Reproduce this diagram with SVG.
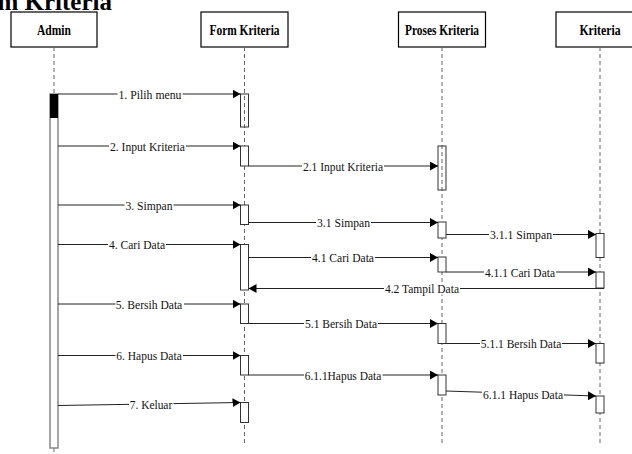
<svg xmlns="http://www.w3.org/2000/svg" width="632" height="454" viewBox="0 0 632 454">
<style>
.hdr{fill:#fff;stroke:#000;stroke-width:1.2}
.htx{font-family:"Liberation Serif",serif;font-weight:bold;font-size:14.5px;text-anchor:middle;fill:#000}
.life{stroke:#666;stroke-width:1;stroke-dasharray:4,3;fill:none}
.bar{fill:#fff;stroke:#333;stroke-width:1}
.barc{fill:none;stroke:#333;stroke-width:1}
.msg{stroke:#222;stroke-width:1;fill:none;marker-end:url(#ah)}
.lb{fill:#fff}
.mt{font-family:"Liberation Serif",serif;font-size:12.5px;text-anchor:middle;fill:#111}
.title{font-family:"Liberation Serif",serif;font-weight:bold;font-size:25px;fill:#000}
</style>
<defs>
<marker id="ah" markerWidth="8" markerHeight="9" refX="8" refY="4.5" orient="auto" markerUnits="userSpaceOnUse">
<path d="M0,0 L8,4.5 L0,9 Z" fill="#000"/>
</marker>
</defs>
<rect width="632" height="454" fill="#fff"/>
<text class="title" x="112" y="10" text-anchor="end">Diagram Kriteria</text>

<g id="admin">
<rect class="hdr" x="11" y="12" width="86" height="35"/>
<text class="htx" x="54" y="35" textLength="34" lengthAdjust="spacingAndGlyphs">Admin</text>
<line class="life" x1="54" y1="47" x2="54" y2="94"/>
<line class="life" x1="54" y1="448" x2="54" y2="454"/>
<rect x="50" y="94" width="8" height="354" fill="#fff" stroke="#888" stroke-width="1.5"/>
<rect x="50" y="94" width="8" height="24" fill="#000"/>
</g>

<g id="form">
<rect class="hdr" x="201" y="12" width="87" height="35"/>
<text class="htx" x="244.5" y="35" textLength="70" lengthAdjust="spacingAndGlyphs">Form Kriteria</text>
<line class="life" x1="244.5" y1="47" x2="244.5" y2="445"/>
<rect class="barc" x="240.5" y="94" width="8" height="33"/>
<rect class="bar" x="240.5" y="146" width="8" height="20"/>
<rect class="bar" x="240.5" y="205" width="8" height="19.5"/>
<rect class="bar" x="240.5" y="244.5" width="8" height="45.5"/>
<rect class="bar" x="240.5" y="304" width="8" height="19.5"/>
<rect class="bar" x="240.5" y="355.5" width="8" height="19.5"/>
<rect class="bar" x="240.5" y="402.5" width="8" height="20"/>
</g>

<g id="proses">
<rect class="hdr" x="398.5" y="12" width="87" height="35"/>
<text class="htx" x="442" y="35" textLength="74" lengthAdjust="spacingAndGlyphs">Proses Kriteria</text>
<line class="life" x1="442" y1="47" x2="442" y2="445"/>
<rect class="barc" x="438" y="146" width="8" height="44"/>
<rect class="bar" x="438" y="222" width="8" height="16"/>
<rect class="bar" x="438" y="257" width="8" height="15"/>
<rect class="bar" x="438" y="323.5" width="8" height="20"/>
<rect class="bar" x="438" y="375" width="8" height="20"/>
</g>

<g id="kriteria">
<rect class="hdr" x="556" y="12" width="88" height="35"/>
<text class="htx" x="600" y="35" textLength="41" lengthAdjust="spacingAndGlyphs">Kriteria</text>
<line class="life" x1="600" y1="47" x2="600" y2="445"/>
<rect class="bar" x="596" y="233.5" width="8" height="24"/>
<rect class="bar" x="596" y="272" width="8" height="16"/>
<rect class="bar" x="596" y="343.5" width="8" height="19.5"/>
<rect class="bar" x="596" y="396" width="8" height="17"/>
</g>

<g id="connectors">
<line class="msg" x1="58" y1="94" x2="240.5" y2="94"/>
<rect class="lb" x="117.5" y="88" width="65" height="12"/>
<text class="mt" x="150" y="98.5" textLength="63" lengthAdjust="spacingAndGlyphs">1. Pilih menu</text>

<line class="msg" x1="58" y1="146" x2="240.5" y2="146"/>
<rect class="lb" x="109" y="140" width="77" height="12"/>
<text class="mt" x="147.5" y="150.5" textLength="75" lengthAdjust="spacingAndGlyphs">2. Input Kriteria</text>

<line class="msg" x1="248.5" y1="166" x2="438" y2="166"/>
<rect class="lb" x="302" y="160" width="82" height="12"/>
<text class="mt" x="343" y="170.5" textLength="80" lengthAdjust="spacingAndGlyphs">2.1 Input Kriteria</text>

<line class="msg" x1="58" y1="205" x2="240.5" y2="205"/>
<rect class="lb" x="124.5" y="199" width="49" height="12"/>
<text class="mt" x="149" y="209.5" textLength="47" lengthAdjust="spacingAndGlyphs">3. Simpan</text>

<line class="msg" x1="248.5" y1="222.5" x2="438" y2="222.5"/>
<rect class="lb" x="316" y="216.5" width="55" height="12"/>
<text class="mt" x="343.5" y="227" textLength="53" lengthAdjust="spacingAndGlyphs">3.1 Simpan</text>

<line class="msg" x1="446" y1="234.5" x2="596" y2="234.5"/>
<rect class="lb" x="489" y="228.5" width="64" height="12"/>
<text class="mt" x="521" y="239" textLength="62" lengthAdjust="spacingAndGlyphs">3.1.1 Simpan</text>

<line class="msg" x1="58" y1="244.5" x2="240.5" y2="244.5"/>
<rect class="lb" x="108" y="238.5" width="58" height="12"/>
<text class="mt" x="137" y="249" textLength="56" lengthAdjust="spacingAndGlyphs">4. Cari Data</text>

<line class="msg" x1="248.5" y1="257.5" x2="438" y2="257.5"/>
<rect class="lb" x="311" y="251.5" width="64" height="12"/>
<text class="mt" x="343" y="262" textLength="62" lengthAdjust="spacingAndGlyphs">4.1 Cari Data</text>

<line class="msg" x1="446" y1="272" x2="596" y2="272"/>
<rect class="lb" x="484" y="266" width="72" height="12"/>
<text class="mt" x="520" y="276.5" textLength="70" lengthAdjust="spacingAndGlyphs">4.1.1 Cari Data</text>

<line class="msg" x1="604" y1="288.5" x2="248.5" y2="288.5"/>
<rect class="lb" x="384" y="282.5" width="76" height="12"/>
<text class="mt" x="422" y="293" textLength="74" lengthAdjust="spacingAndGlyphs">4.2 Tampil Data</text>

<line class="msg" x1="58" y1="304" x2="240.5" y2="304"/>
<rect class="lb" x="115.5" y="298" width="68.5" height="12"/>
<text class="mt" x="149" y="308.5" textLength="66.5" lengthAdjust="spacingAndGlyphs">5. Bersih Data</text>

<line class="msg" x1="248.5" y1="323.5" x2="438" y2="323.5"/>
<rect class="lb" x="304" y="317.5" width="74" height="12"/>
<text class="mt" x="341" y="328" textLength="72" lengthAdjust="spacingAndGlyphs">5.1 Bersih Data</text>

<line class="msg" x1="446" y1="343.5" x2="596" y2="343.5"/>
<rect class="lb" x="480" y="337.5" width="82" height="12"/>
<text class="mt" x="521" y="348" textLength="80.5" lengthAdjust="spacingAndGlyphs">5.1.1 Bersih Data</text>

<line class="msg" x1="58" y1="355.5" x2="240.5" y2="355.5"/>
<rect class="lb" x="115.5" y="349.5" width="67.5" height="12"/>
<text class="mt" x="149" y="360" textLength="65.5" lengthAdjust="spacingAndGlyphs">6. Hapus Data</text>

<line class="msg" x1="248.5" y1="375" x2="438" y2="375"/>
<rect class="lb" x="304" y="369" width="78.5" height="12"/>
<text class="mt" x="343" y="379.5" textLength="76.5" lengthAdjust="spacingAndGlyphs">6.1.1Hapus Data</text>

<line class="msg" x1="446" y1="391" x2="596" y2="396"/>
<rect class="lb" x="482" y="388" width="82" height="12"/>
<text class="mt" x="523" y="398.5" textLength="80" lengthAdjust="spacingAndGlyphs">6.1.1 Hapus Data</text>

<line class="msg" x1="58" y1="405.5" x2="240.5" y2="402.5"/>
<rect class="lb" x="129" y="398" width="44.5" height="12"/>
<text class="mt" x="151" y="408.5" textLength="42.5" lengthAdjust="spacingAndGlyphs">7. Keluar</text>
</g>
</svg>
